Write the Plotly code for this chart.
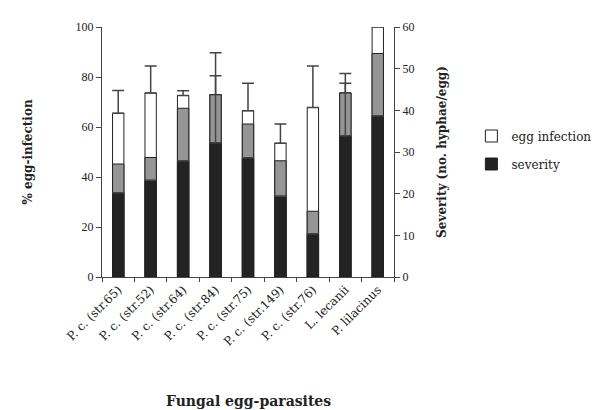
import plotly.graph_objects as go

categories = ["P. c. (str.65)", "P. c. (str.52)", "P. c. (str.64)", "P. c. (str.84)",
              "P. c. (str.75)", "P. c. (str.149)", "P. c. (str.76)", "L. lecanii", "P. lilacinus"]
egg_infection = [65.5, 73.6, 72.6, 72.9, 66.5, 53.5, 67.8, 73.6, 100.0]
egg_err = [9.1, 10.8, 1.9, 16.8, 11.0, 7.7, 16.6, 7.8, None]
grey_part = [45.2, 47.8, 67.5, 72.9, 61.2, 46.5, 26.3, 73.6, 89.4]
severity = [20.2, 23.2, 27.9, 32.2, 28.6, 19.4, 10.4, 33.9, 38.7]
severity_err = [None, None, None, 16.1, None, None, None, 12.6, None]

NUM_FONT = "Liberation Serif"
FONT = "DejaVu Serif"

fig = go.Figure()
fig.add_trace(go.Bar(
    x=categories, y=egg_infection, name="egg infection", yaxis="y", legendgroup="a",
    marker=dict(color="white", line=dict(color="#222", width=1)),
    error_y=dict(type="data", array=egg_err, arrayminus=[0]*9, symmetric=False,
                 color="#444", thickness=1.5, width=6),
))
fig.add_trace(go.Bar(
    x=categories, y=grey_part, name="grey", yaxis="y", showlegend=False, legendgroup="c",
    marker=dict(color="#959595", line=dict(color="#222", width=1)),
))
fig.add_trace(go.Bar(
    x=categories, y=severity, name="severity", yaxis="y2", legendgroup="b",
    marker=dict(color="#232323", line=dict(color="#222", width=1)),
    error_y=dict(type="data", array=severity_err, arrayminus=[0]*9, symmetric=False,
                 color="#444", thickness=1.5, width=6),
))

fig.update_layout(
    width=600, height=410,
    margin=dict(l=94, r=208, t=14, b=141),
    paper_bgcolor="white", plot_bgcolor="white",
    barmode="overlay", bargap=0.65,
    font=dict(family=FONT, size=11, color="#222"),
    showlegend=True,
    legend=dict(x=1.265, y=0.622, xanchor="left", yanchor="top",
                font=dict(family=FONT, size=12, color="#222"),
                bgcolor="rgba(0,0,0,0)", itemwidth=30, tracegroupgap=9),
    xaxis=dict(
        showline=True, linecolor="#444", linewidth=1,
        ticks="outside", tickson="boundaries", ticklen=4, tickcolor="#444",
        tickangle=-45, tickfont=dict(family=FONT, size=12),
        showgrid=False,
    ),
    yaxis=dict(
        range=[0, 100], dtick=20, showline=True, linecolor="#444", linewidth=1,
        ticks="outside", ticklen=5, tickcolor="#444", showgrid=False, zeroline=False,
        tickfont=dict(family=NUM_FONT, size=12),
        title=dict(text="<b>% egg-infection</b>", font=dict(family=FONT, size=12), standoff=40),
    ),
    yaxis2=dict(
        range=[0, 60], dtick=10, overlaying="y", side="right",
        showline=True, linecolor="#444", linewidth=1,
        ticks="outside", ticklen=5, tickcolor="#444", showgrid=False, zeroline=False,
        tickfont=dict(family=NUM_FONT, size=12),
        title=dict(text="<b>Severity (no. hyphae/egg)</b>", font=dict(family=FONT, size=12), standoff=24),
    ),
    annotations=[dict(text="<b>Fungal egg-parasites</b>", x=0.5, y=-0.495, xref="paper", yref="paper",
                      xanchor="center", yanchor="middle", showarrow=False,
                      font=dict(family=FONT, size=14, color="#222"))],
)

fig.write_html("out.html")
